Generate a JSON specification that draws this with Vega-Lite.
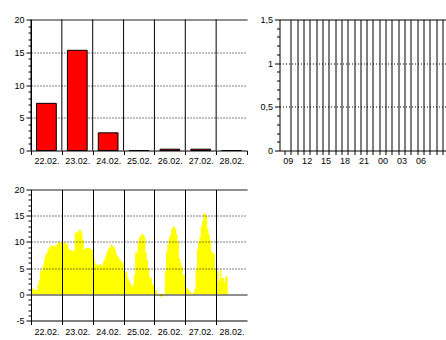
{
  "$schema": "https://vega.github.io/schema/vega-lite/v6.json",
  "background": "white",
  "padding": {"left": 13, "top": 15.5, "right": 0, "bottom": 0},
  "spacing": 20,
  "config": {
    "view": {"stroke": null},
    "axis": {
      "labelFont": "Liberation Sans",
      "labelFontSize": 9,
      "labelColor": "#000000",
      "domainColor": "#000000",
      "domainWidth": 1,
      "tickColor": "#000000",
      "tickWidth": 1,
      "gridColor": "#000000",
      "gridWidth": 1,
      "labelOverlap": false,
      "labelFlush": false,
      "labelBound": false
    }
  },
  "vconcat": [
    {
      "spacing": 11.5,
      "hconcat": [
        {
          "width": 216,
          "height": 131,
          "data": {
            "values": [
              {"day": "22.02.", "precip": 7.2},
              {"day": "23.02.", "precip": 15.3},
              {"day": "24.02.", "precip": 2.7},
              {"day": "25.02.", "precip": 0},
              {"day": "26.02.", "precip": 0.2},
              {"day": "27.02.", "precip": 0.2},
              {"day": "28.02.", "precip": 0}
            ]
          },
          "layer": [
            {
              "mark": {"type": "bar", "fill": "#ff0000", "stroke": "#000000", "strokeWidth": 1, "width": {"band": 0.64}},
              "encoding": {
                "x": {
                  "field": "day", "type": "ordinal", "sort": null,
                  "scale": {"paddingInner": 0, "paddingOuter": 0},
                  "axis": {"title": null, "labelAngle": 0, "tickBand": "extent", "bandPosition": 0.5, "grid": false, "tickSize": 4, "labelPadding": 2}
                },
                "y": {
                  "field": "precip", "type": "quantitative", "stack": null,
                  "scale": {"domain": [0, 20], "nice": false},
                  "axis": {
                    "title": null,
                    "values": [0,1,2,3,4,5,6,7,8,9,10,11,12,13,14,15,16,17,18,19,20],
                    "tickSize": {"condition": {"test": "datum.value % 5 === 0", "value": 5}, "value": 3},
                    "labelExpr": "datum.value % 5 === 0 ? '' + datum.value : ''",
                    "labelPadding": 2,
                    "grid": true,
                    "gridDash": {"condition": {"test": "datum.value === 20", "value": [1, 0]}, "value": [1, 2]},
                    "gridOpacity": {"condition": {"test": "datum.value % 5 === 0 && datum.value > 0", "value": 1}, "value": 0}
                  }
                }
              }
            },
            {
              "mark": {"type": "rule", "stroke": "#000000", "strokeWidth": 1},
              "encoding": {
                "x": {"field": "day", "type": "ordinal", "sort": null, "bandPosition": 0}
              }
            }
          ]
        },
        {
          "width": 168,
          "height": 131,
          "data": {
            "values": [
              {"h": 0, "v": 0}, {"h": 3, "v": 0}, {"h": 6, "v": 0}, {"h": 9, "v": 0},
              {"h": 12, "v": 0}, {"h": 15, "v": 0}, {"h": 18, "v": 0}, {"h": 21, "v": 0}
            ]
          },
          "mark": {"type": "bar", "fill": "#ff0000", "opacity": 0},
          "encoding": {
            "x": {
              "field": "h", "type": "quantitative",
              "scale": {"domain": [0, 25], "nice": false, "zero": false},
              "axis": {
                "title": null,
                "values": [0,0.5,1,2,3,3.5,4,5,6,6.5,7,8,9,9.5,10,11,12,12.5,13,14,15,15.5,16,17,18,18.5,19,20,21,21.5,22,23,24,25],
                "grid": true,
                "gridOpacity": {"condition": {"test": "datum.value % 1 === 0 && datum.value > 0", "value": 1}, "value": 0},
                "tickOpacity": {"condition": {"test": "datum.value % 1 === 0", "value": 1}, "value": 0},
                "tickSize": 4,
                "labelPadding": 2,
                "labelExpr": "datum.value % 1 ? ['09','12','15','18','21','00','03','06'][floor(datum.value / 3)] : ''"
              }
            },
            "y": {
              "field": "v", "type": "quantitative", "stack": null,
              "scale": {"domain": [0, 1.5], "nice": false},
              "axis": {
                "title": null,
                "values": [0,0.1,0.2,0.3,0.4,0.5,0.6,0.7,0.8,0.9,1,1.1,1.2,1.3,1.4,1.5],
                "tickSize": {"condition": {"test": "abs(datum.value * 2 - round(datum.value * 2)) < 0.001", "value": 5}, "value": 3},
                "labelExpr": "abs(datum.value * 2 - round(datum.value * 2)) < 0.001 ? replace('' + datum.value, '.', ',') : ''",
                "labelPadding": 2,
                "grid": true,
                "gridDash": {"condition": {"test": "datum.value === 1.5", "value": [1, 0]}, "value": [1, 2]},
                "gridOpacity": {"condition": {"test": "datum.value === 0.5 || datum.value === 1 || datum.value === 1.5", "value": 1}, "value": 0}
              }
            }
          }
        }
      ]
    },
    {
      "width": 216,
      "height": 131,
      "data": {
        "values": [
          {"h":0,"temp":1.2},{"h":1,"temp":1.1},{"h":2,"temp":0.9},{"h":3,"temp":0.8},{"h":4,"temp":0.8},{"h":5,"temp":1.8},
          {"h":6,"temp":2.8},{"h":7,"temp":4.5},{"h":8,"temp":4.6},{"h":9,"temp":5.5},{"h":10,"temp":6.6},{"h":11,"temp":7.5},
          {"h":12,"temp":8.0},{"h":13,"temp":8.6},{"h":14,"temp":9.0},{"h":15,"temp":9.3},{"h":16,"temp":9.3},{"h":17,"temp":9.2},
          {"h":18,"temp":9.1},{"h":19,"temp":9.3},{"h":20,"temp":9.6},{"h":21,"temp":9.9},{"h":22,"temp":9.9},{"h":23,"temp":9.9},
          {"h":24,"temp":9.9},{"h":25,"temp":9.9},{"h":26,"temp":9.8},{"h":27,"temp":9.6},{"h":28,"temp":9.6},{"h":29,"temp":8.6},
          {"h":30,"temp":8.4},{"h":31,"temp":8.5},{"h":32,"temp":8.3},{"h":33,"temp":8.2},{"h":34,"temp":11.8},{"h":35,"temp":11.8},
          {"h":36,"temp":11.8},{"h":37,"temp":12.3},{"h":38,"temp":12.3},{"h":39,"temp":11.8},{"h":40,"temp":10.5},{"h":41,"temp":8.6},
          {"h":42,"temp":8.8},{"h":43,"temp":8.9},{"h":44,"temp":8.9},{"h":45,"temp":8.9},{"h":46,"temp":8.6},{"h":47,"temp":8.5},
          {"h":48,"temp":7.5},{"h":49,"temp":6.6},{"h":50,"temp":5.8},{"h":51,"temp":5.6},{"h":52,"temp":5.6},{"h":53,"temp":5.8},
          {"h":54,"temp":5.6},{"h":55,"temp":5.5},{"h":56,"temp":6.3},{"h":57,"temp":6.8},{"h":58,"temp":7.5},{"h":59,"temp":8.2},
          {"h":60,"temp":8.8},{"h":61,"temp":9.0},{"h":62,"temp":9.5},{"h":63,"temp":9.3},{"h":64,"temp":9.0},{"h":65,"temp":8.6},
          {"h":66,"temp":7.7},{"h":67,"temp":7.3},{"h":68,"temp":6.9},{"h":69,"temp":6.6},{"h":70,"temp":6.3},{"h":71,"temp":6.0},
          {"h":72,"temp":4.5},{"h":73,"temp":4.3},{"h":74,"temp":4.2},{"h":75,"temp":3.1},{"h":76,"temp":2.6},{"h":77,"temp":2.1},
          {"h":78,"temp":1.5},{"h":79,"temp":1.8},{"h":80,"temp":3.7},{"h":81,"temp":8.0},{"h":82,"temp":8.0},{"h":83,"temp":10.0},
          {"h":84,"temp":10.9},{"h":85,"temp":11.2},{"h":86,"temp":11.6},{"h":87,"temp":11.3},{"h":88,"temp":11.0},{"h":89,"temp":8.0},
          {"h":90,"temp":6.5},{"h":91,"temp":5.0},{"h":92,"temp":3.3},{"h":93,"temp":3.0},{"h":94,"temp":1.8},{"h":95,"temp":1.8},
          {"h":96,"temp":1.0},{"h":97,"temp":0.7},{"h":98,"temp":0.15},{"h":99,"temp":0.0},{"h":100,"temp":-0.4},{"h":101,"temp":-0.5},
          {"h":102,"temp":-0.3},{"h":103,"temp":0.05},{"h":104,"temp":4.4},{"h":105,"temp":8.2},{"h":106,"temp":9.5},{"h":107,"temp":10.7},
          {"h":108,"temp":11.3},{"h":109,"temp":12.5},{"h":110,"temp":12.8},{"h":111,"temp":13.0},{"h":112,"temp":12.5},{"h":113,"temp":11.5},
          {"h":114,"temp":10.1},{"h":115,"temp":6.9},{"h":116,"temp":6.0},{"h":117,"temp":5.2},{"h":118,"temp":3.7},{"h":119,"temp":3.7},
          {"h":120,"temp":1.5},{"h":121,"temp":1.2},{"h":122,"temp":0.9},{"h":123,"temp":0.6},{"h":124,"temp":0.35},{"h":125,"temp":0.1},
          {"h":126,"temp":0.3},{"h":127,"temp":1.0},{"h":128,"temp":4.7},{"h":129,"temp":8.6},{"h":130,"temp":10.0},{"h":131,"temp":11.0},
          {"h":132,"temp":13.0},{"h":133,"temp":13.9},{"h":134,"temp":15.4},{"h":135,"temp":15.4},{"h":136,"temp":15.0},{"h":137,"temp":12.5},
          {"h":138,"temp":11.5},{"h":139,"temp":10.4},{"h":140,"temp":8.2},{"h":141,"temp":8.0},{"h":142,"temp":7.7},{"h":143,"temp":4.7},
          {"h":144,"temp":4.4},{"h":145,"temp":4.4},{"h":146,"temp":2.6},{"h":147,"temp":4.7},{"h":148,"temp":3.1},{"h":149,"temp":3.1},
          {"h":150,"temp":2.3},{"h":151,"temp":3.4},{"h":152,"temp":3.4},{"h":153,"temp":3.4}
        ]
      },
      "mark": {"type": "area", "interpolate": "step-after", "fill": "#ffff00", "strokeWidth": 0},
      "encoding": {
        "x": {
          "field": "h", "type": "quantitative",
          "scale": {"domain": [0, 168], "nice": false, "zero": false},
          "axis": {
            "title": null,
            "zindex": 1,
            "values": [0,12,24,36,48,60,72,84,96,108,120,132,144,156],
            "grid": true,
            "gridOpacity": {"condition": {"test": "datum.value % 24 === 0 && datum.value > 0", "value": 1}, "value": 0},
            "tickOpacity": {"condition": {"test": "datum.value % 24 === 0", "value": 1}, "value": 0},
            "tickSize": 4,
            "labelPadding": 2.5,
            "labelExpr": "datum.value % 24 === 12 ? ['22.02.','23.02.','24.02.','25.02.','26.02.','27.02.','28.02.'][floor(datum.value / 24)] : ''"
          }
        },
        "y": {
          "field": "temp", "type": "quantitative", "stack": null,
          "scale": {"domain": [-5, 20], "nice": false},
          "axis": {
            "title": null,
            "zindex": 1,
            "values": [-5,-4,-3,-2,-1,0,1,2,3,4,5,6,7,8,9,10,11,12,13,14,15,16,17,18,19,20],
            "tickSize": {"condition": {"test": "datum.value % 5 === 0", "value": 5}, "value": 3},
            "labelExpr": "datum.value % 5 === 0 ? (datum.value < 0 ? '-' + abs(datum.value) : '' + datum.value) : ''",
            "labelPadding": 2,
            "grid": true,
            "gridDash": {"condition": {"test": "datum.value === 20 || datum.value === 0", "value": [1, 0]}, "value": [1, 2]},
            "gridOpacity": {"condition": {"test": "datum.value % 5 === 0 && datum.value > -5", "value": 1}, "value": 0}
          }
        }
      }
    }
  ]
}
